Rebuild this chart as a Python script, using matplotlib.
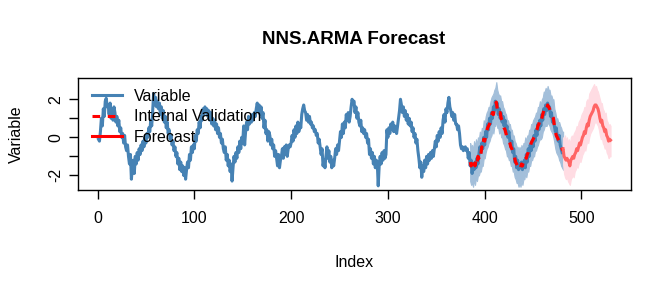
import numpy as np
import matplotlib
matplotlib.use("Agg")
import matplotlib.pyplot as plt
from matplotlib.lines import Line2D

plt.rcParams['font.family'] = ['Liberation Sans', 'DejaVu Sans']

# ---------------- data ----------------
variable = [
    -0.1, -0.2, 0.3, 1.0, 0.6, 1.5, 1.1, 1.9, 2.05, 1.6,
    1.7, 1.2, 1.8, 1.0, 1.5, 0.9, 1.6, 1.3, 0.8, 1.1,
    0.6, 0.9, 0.3, 0.5, 0.0, 0.2, -0.3, 0.1, -0.5, -0.7,
    -0.4, -1.0, -1.4, -0.9, -2.2, -1.6, -1.2, -1.9, -1.0, -1.4,
    -0.8, -1.2, -0.6, -0.9, -0.4, -0.7, -0.2, -0.5, 0.0, -0.3,
    0.2, 0.0, 0.5, 0.3, 0.9, 0.6, 1.4, 2.3, 1.7, 2.1,
    1.6, 1.9, 1.5, 1.8, 1.2, 1.6, 1.0, 1.4, 0.8, 1.1,
    0.5, 0.8, 0.2, 0.4, -0.1, 0.1, -0.4, -0.2, -0.7, -0.5,
    -1.0, -0.8, -1.4, -1.1, -1.7, -1.3, -1.8, -1.5, -2.0, -1.6,
    -2.2, -1.7, -1.3, -1.6, -0.9, -1.2, -0.5, -0.8, -0.4, -0.6,
    0.1, -0.2, 0.4, 0.2, 0.8, 0.5, 1.1, 0.9, 1.5, 1.2,
    1.6, 1.3, 1.5, 1.1, 1.4, 0.9, 1.3, 0.7, 1.0, 0.6,
    0.9, 0.4, 0.7, 0.2, 0.5, 0.0, 0.2, -0.3, -0.1, -0.6,
    -0.8, -0.5, -1.2, -0.9, -1.5, -1.2, -1.8, -1.4, -2.3, -1.6,
    -1.0, -1.3, -0.8, -1.1, -0.5, -0.8, -0.2, -0.6, 0.0, -0.3,
    0.6, -0.4, 0.3, 0.8, 0.4, 1.1, 0.7, 1.0, 0.8, 1.2,
    0.9, 1.3, 1.1, 1.5, 1.8, 1.4, 1.7, 1.2, 1.6, 1.0,
    1.3, 0.5, 0.9, 0.2, 0.4, -0.2, 0.3, 0.1, -0.4, -0.1,
    -0.6, -0.4, -1.0, -0.7, -1.1, -1.5, -0.9, -1.6, -1.2, -1.0,
    -0.6, -1.1, -0.5, -0.9, -0.4, -1.0, -0.6, -0.4, -0.5, -0.3,
    0.1, -0.2, 0.4, 0.0, 0.6, 0.2, 0.8, 0.3, 0.7, 0.5,
    1.2, 1.5, 1.7, 1.4, 1.3, 0.9, 1.2, 0.8, 1.1, 0.7,
    0.8, 0.5, 0.6, 0.3, 0.4, 0.1, 0.2, -0.3, -0.1, -0.5,
    -0.9, -0.6, -1.5, -1.2, -1.6, -1.0, -0.5, -1.1, -0.7, -1.3,
    -1.0, -1.6, -1.2, -1.5, -1.1, -0.6, -0.9, -0.4, -0.7, -0.2,
    0.3, 0.0, 0.7, 0.2, 0.8, 0.5, 1.2, 0.9, 1.3, 0.8,
    1.1, 1.6, 2.0, 1.8, 1.9, 1.3, 1.6, 1.0, 1.3, 0.8,
    0.6, 0.9, 0.3, 0.5, 0.2, 0.4, 0.0, 0.2, -0.3, -0.1,
    -0.9, -0.6, -1.1, -0.8, -1.4, -1.0, -1.6, -1.2, -1.3, -2.55,
    -1.5, -1.0, -1.4, -0.8, -1.2, -0.7, -1.1, -0.9, 0.4, 0.0,
    0.5, 0.2, 0.7, 0.4, 0.8, 0.3, 0.6, 0.4, 0.2, 0.6,
    1.0, 1.4, 2.0, 1.7, 1.3, 1.6, 1.1, 1.4, 0.9, 1.2,
    0.7, 1.0, 0.6, 0.8, 0.3, 0.5, 0.0, 0.2, -0.3, -0.1,
    -0.7, -1.1, -1.6, -1.3, -2.1, -1.5, -1.8, -1.2, -1.6, -1.0,
    -1.4, -0.9, -1.2, -0.8, -1.1, -0.7, -1.0, -0.6, -0.2, -0.5,
    0.1, -0.2, 0.3, 0.0, 0.5, 0.2, 0.9, 1.2, 0.8, 1.5,
    1.3, 1.8, 2.1, 1.6, 1.4, 1.1, 1.3, 0.9, 1.2, 0.7,
    0.7, 0.4, 0.6, 0.2, -0.4, -0.6, -0.5, -0.7, -0.6, -0.5,
    -0.7, -0.6, -1.1, -0.8, -1.5, -1.2, -1.9, -1.4, -1.7, -1.3,
    -1.6, -1.1, -1.4, -0.9, -0.5, -0.8, -0.3, -0.6, 0.0, -0.4,
    0.3, 0.0, 0.7, 0.4, 1.0, 0.7, 1.3, 1.0, 1.6, 1.4,
    1.9, 1.5, 1.8, 1.2, 1.5, 1.0, 1.3, 0.8, 1.1, 0.6,
    0.9, 0.3, 0.6, 0.0, 0.3, -0.2, -0.5, -0.2, -0.8, -0.6,
    -1.3, -1.0, -1.6, -1.2, -1.7, -1.4, -1.6, -1.3, -1.7, -1.5,
    -1.2, -1.6, -0.9, -1.3, -0.6, -1.0, -0.4, -0.7, -0.2, -0.5,
    0.1, -0.2, 0.4, 0.1, 0.7, 0.4, 0.9, 0.6, 1.2, 0.9,
    1.5, 1.2, 1.7, 1.4, 1.8, 1.5, 1.6, 1.1, 1.3, 0.8,
    1.0, 0.6, 0.3, 0.5, 0.0, -0.2, 0.1, -0.4, -0.6, -0.8,
]

valid_start = 385
validation = [
    -1.3, -1.5, -1.4, -1.6, -1.3, -1.5, -1.2, -1.4, -1.0, -1.1,
    -0.8, -0.9, -0.5, -0.6, -0.1, -0.2, 0.1, 0.3, 0.5, 0.6,
    0.7, 0.9, 1.1, 1.3, 1.2, 1.5, 1.6, 1.85, 1.5, 1.4,
    1.2, 1.3, 1.0, 0.9, 0.7, 0.5, 0.4, 0.2, 0.0, -0.1,
    -0.2, -0.3, -0.5, -0.6, -0.8, -0.9, -1.1, -1.3, -1.4, -1.5,
    -1.6, -1.5, -1.6, -1.4, -1.5, -1.3, -1.2, -1.0, -1.1, -0.9,
    -0.8, -0.6, -0.5, -0.3, -0.2, -0.1, 0.0, 0.2, 0.3, 0.4,
    0.6, 0.7, 0.9, 0.8, 1.0, 1.2, 1.4, 1.5, 1.6, 1.5,
    1.7, 1.6, 1.5, 1.3, 1.2, 1.1, 1.0, 0.6, 0.3, 0.1,
    0.0, -0.1, -0.2, -0.3, -0.5, -0.6, -0.7,
]
valid_upper = [
    -0.3, -0.6, -0.4, -0.7, -0.2, -0.5, -0.1, -0.4, 0.0, -0.1,
    0.3, 0.1, 0.5, 0.4, 0.9, 0.7, 1.1, 1.3, 1.4, 1.6,
    1.6, 1.9, 2.1, 2.2, 2.3, 2.5, 2.6, 2.9, 2.5, 2.3,
    2.2, 2.2, 1.9, 1.9, 1.6, 1.5, 1.3, 1.2, 0.9, 0.9,
    0.7, 0.7, 0.4, 0.4, 0.1, 0.1, -0.2, -0.3, -0.5, -0.5,
    -0.7, -0.5, -0.7, -0.4, -0.6, -0.3, -0.3, 0.0, -0.2, 0.1,
    0.1, 0.4, 0.4, 0.7, 0.7, 0.9, 1.0, 1.1, 1.3, 1.3,
    1.6, 1.6, 1.9, 1.7, 2.0, 2.1, 2.4, 2.4, 2.6, 2.4,
    2.7, 2.5, 2.5, 2.2, 2.2, 2.0, 2.0, 1.5, 1.3, 1.0,
    1.0, 0.8, 0.8, 0.6, 0.5, 0.3, 0.3,
]
valid_lower = [
    -2.3, -2.5, -2.4, -2.6, -2.2, -2.5, -2.1, -2.3, -2.0, -2.0,
    -1.8, -1.8, -1.5, -1.5, -1.1, -1.1, -0.8, -0.6, -0.5, -0.3,
    -0.2, 0.0, 0.1, 0.4, 0.2, 0.6, 0.6, 0.9, 0.5, 0.5,
    0.2, 0.4, 0.0, 0.0, -0.3, -0.4, -0.6, -0.7, -1.0, -1.0,
    -1.2, -1.2, -1.5, -1.5, -1.8, -1.8, -2.1, -2.2, -2.4, -2.4,
    -2.6, -2.4, -2.6, -2.3, -2.5, -2.2, -2.2, -1.9, -2.1, -1.8,
    -1.8, -1.5, -1.5, -1.2, -1.2, -1.0, -1.0, -0.7, -0.7, -0.5,
    -0.4, -0.2, -0.1, -0.1, 0.0, 0.3, 0.4, 0.6, 0.6, 0.6,
    0.8, 0.7, 0.6, 0.4, 0.3, 0.2, 0.0, -0.3, -0.6, -0.8,
    -0.9, -1.0, -1.2, -1.3, -1.5, -1.6, -1.7,
]

fc_start = 481
forecast = [
    -0.6, -1.0, -1.1, -1.2, -1.1, -1.2, -1.3, -1.5, -1.2, -1.1,
    -1.0, -1.1, -0.9, -0.8, -0.6, -0.7, -0.5, -0.3, -0.4, -0.2,
    0.0, 0.1, 0.3, 0.2, 0.5, 0.7, 0.6, 0.9, 1.1, 1.2,
    1.3, 1.4, 1.6, 1.7, 1.7, 1.6, 1.5, 1.3, 1.0, 0.8,
    0.9, 0.6, 0.5, 0.3, 0.4, 0.1, 0.0, -0.2, -0.1, -0.15,
]
fc_upper = [
    0.0, -0.1, 0.1, -0.2, 0.0, -0.3, -0.1, -0.4, 0.0, 0.1,
    0.0, 0.2, 0.3, 0.4, 0.6, 0.5, 0.8, 0.9, 1.0, 1.2,
    1.3, 1.4, 1.6, 1.5, 1.9, 2.0, 1.9, 2.3, 2.4, 2.5,
    2.6, 2.7, 2.8, 2.6, 2.7, 2.5, 2.4, 2.2, 2.0, 1.8,
    1.8, 1.5, 1.4, 1.2, 1.3, 0.9, 0.8, 0.6, 0.7, 0.6,
]
fc_lower = [
    -1.4, -1.9, -2.1, -2.2, -2.1, -2.3, -2.4, -2.5, -2.2, -2.1,
    -2.0, -2.1, -1.8, -1.7, -1.5, -1.6, -1.4, -1.2, -1.3, -1.1,
    -0.9, -0.8, -0.6, -0.7, -0.4, -0.2, -0.3, 0.0, 0.2, 0.3,
    0.4, 0.5, 0.7, 0.8, 0.8, 0.7, 0.6, 0.4, 0.1, -0.1,
    0.0, -0.3, -0.4, -0.6, -0.5, -0.8, -0.9, -1.1, -1.0, -1.0,
]

x_ticks = [0, 100, 200, 300, 400, 500]
y_ticks = [-2, -1, 0, 1, 2]
y_ticklabels = ["-2", "", "0", "", "2"]
legend_labels = ["Variable", "Internal Validation", "Forecast"]

# ---------------- figure ----------------
W, H = 672, 288
fig = plt.figure(figsize=(W / 100, H / 100), dpi=100)
ax = fig.add_axes([78 / W, 1 - 190 / H, (631 - 78) / W, (190 - 78) / H])

x_var = np.arange(1, len(variable) + 1)
x_val = np.arange(valid_start, valid_start + len(validation))
x_fc = np.arange(fc_start, fc_start + len(forecast))

steel = "#4682B4"
ax.fill_between(x_val, valid_lower, valid_upper, color="#A3BFDA", lw=0.8,
                edgecolor="#A3BFDA", zorder=1)
ax.fill_between(x_fc, fc_lower, fc_upper, color="#FFDCE3", lw=0.8,
                edgecolor="#FFDCE3", zorder=1)
ax.plot(x_var, variable, color=steel, lw=2.2, zorder=2)
ax.plot(x_val, validation, color="red", lw=2.3, ls=(0, (2.5, 2.5)), zorder=3)
ax.plot(x_fc, forecast, color="#FF6464", lw=2.2, zorder=3)

n_all = fc_start + len(forecast) - 1
pad_x = 0.04 * (n_all - 1)
ax.set_xlim(1 - pad_x, n_all + pad_x)
ymin, ymax = -2.55, 2.9
pad_y = 0.04 * (ymax - ymin)
ax.set_ylim(ymin - pad_y, ymax + pad_y)

ax.set_xticks(x_ticks)
ax.set_xticklabels([str(t) for t in x_ticks])
ax.set_yticks(y_ticks)
ax.set_yticklabels(y_ticklabels, rotation=90, va="center")
ax.tick_params(axis="both", direction="out", length=6.8, width=1.0,
               labelsize=11.5, colors="black")
ax.tick_params(axis="x", pad=8)
ax.tick_params(axis="y", pad=4)
for s in ax.spines.values():
    s.set_linewidth(1.0)
    s.set_color("black")

ax.set_xlabel("Index", fontsize=11.5, labelpad=21)
ax.set_ylabel("Variable", fontsize=11.5, labelpad=17)
fig.text(354 / W, 1 - 40 / H, "NNS.ARMA Forecast", ha="center", va="center",
         fontsize=13.5, fontweight="bold")

handles = [
    Line2D([], [], color=steel, lw=2.2),
    Line2D([], [], color="red", lw=2.2, ls=(0, (2.5, 2.5))),
    Line2D([], [], color="red", lw=2.2),
]
leg = ax.legend(handles, legend_labels, loc="upper left",
                bbox_to_anchor=(92 / W, 1 - 89 / H), bbox_transform=fig.transFigure,
                frameon=False, fontsize=11.5, handlelength=1.85, handletextpad=0.75,
                labelspacing=0.33, borderpad=0, borderaxespad=0)
leg.set_zorder(5)

fig.savefig("out.png", dpi=100)
